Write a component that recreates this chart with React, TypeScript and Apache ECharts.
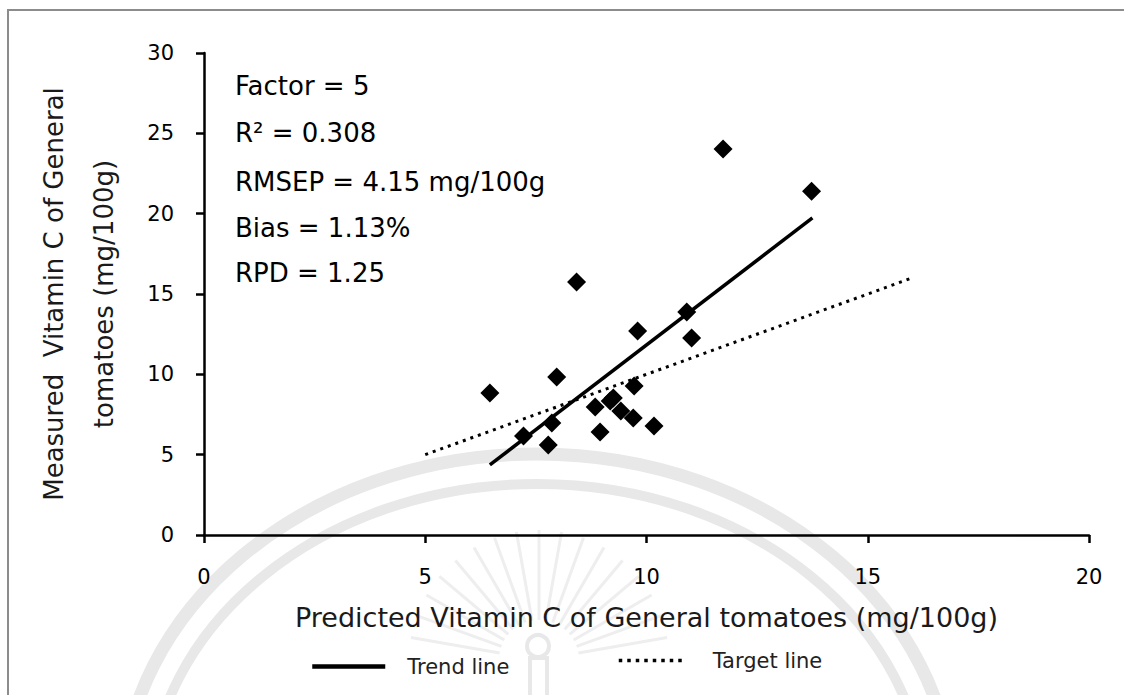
import React, { useEffect, useRef } from "react";
import * as echarts from "echarts";

// ---- Data ----
const predicted: number[] = [11.73, 13.73, 8.42, 10.91, 9.8, 11.02, 7.97, 6.46, 9.72, 9.25, 9.18, 8.84, 9.42, 9.7, 7.86, 10.17, 7.22, 8.95, 7.78];
const measured: number[] = [24.02, 21.4, 15.74, 13.88, 12.69, 12.26, 9.83, 8.84, 9.27, 8.53, 8.34, 7.97, 7.72, 7.28, 6.97, 6.78, 6.16, 6.41, 5.6];
const trendX: number[] = [6.46, 13.75];
const trendY: number[] = [4.36, 19.74];
const targetX: number[] = [5, 16];
const targetY: number[] = [5, 16];
const statsLines: string[] = ["Factor = 5", "R² = 0.308", "RMSEP = 4.15 mg/100g", "Bias = 1.13%", "RPD = 1.25"];
const xAxisTitle = "Predicted Vitamin C of General tomatoes (mg/100g)";
const yAxisTitle = "Measured  Vitamin C of General\ntomatoes (mg/100g)";
const seriesNames: string[] = ["Trend line", "Target line"];

const FONT = "'DejaVu Sans', Verdana, sans-serif";

export default function App() {
  const ref = useRef<HTMLDivElement>(null);

  useEffect(() => {
    document.body.style.margin = "0";
    if (!ref.current) return;
    const chart = echarts.init(ref.current, null, { renderer: "svg" });

    const points = predicted.map((x, i) => [x, measured[i]]);
    const trend = trendX.map((x, i) => [x, trendY[i]]);
    const target = targetX.map((x, i) => [x, targetY[i]]);

    const wm = "#e8e8e8";
    const rayCenter = [539, 660];
    const rays: any[] = [];
    for (let k = 0; k < 17; k++) {
      const a = Math.PI + (Math.PI * (k + 1)) / 18;
      rays.push({
        type: "line",
        silent: true,
        z: -5,
        shape: {
          x1: rayCenter[0] + Math.cos(a) * 40,
          y1: rayCenter[1] + Math.sin(a) * 40,
          x2: rayCenter[0] + Math.cos(a) * 130,
          y2: rayCenter[1] + Math.sin(a) * 130,
        },
        style: { stroke: "#eeeeee", lineWidth: 3 },
      });
    }

    const graphics: any[] = [
      {
        type: "rect",
        silent: true,
        z: -10,
        shape: { x: 8, y: 10, width: 1130, height: 700 },
        style: { fill: "none", stroke: "#8c8c8c", lineWidth: 2 },
      },
      {
        type: "ellipse",
        silent: true,
        z: -5,
        shape: { cx: 537, cy: 800, rx: 416, ry: 346 },
        style: { fill: "none", stroke: wm, lineWidth: 13 },
      },
      {
        type: "ellipse",
        silent: true,
        z: -5,
        shape: { cx: 537, cy: 800, rx: 388, ry: 316 },
        style: { fill: "none", stroke: wm, lineWidth: 10 },
      },
      ...rays,
      {
        type: "circle",
        silent: true,
        z: -5,
        shape: { cx: 538, cy: 646, r: 11 },
        style: { fill: "none", stroke: wm, lineWidth: 4 },
      },
      {
        type: "rect",
        silent: true,
        z: -5,
        shape: { x: 530, y: 658, width: 17, height: 40 },
        style: { fill: "none", stroke: wm, lineWidth: 4 },
      },
      ...statsLines.map((t, i) => ({
        type: "text",
        x: 235,
        y: [86, 133, 182, 228, 273][i],
        z: 10,
        style: {
          text: t,
          fontFamily: FONT,
          fontSize: 26,
          fill: "#000",
          textAlign: "left",
          textVerticalAlign: "middle",
        },
      })),
    ];

    const option: any = {
      animation: false,
      backgroundColor: "#ffffff",
      textStyle: { fontFamily: FONT },
      grid: { left: 204, right: 35, top: 53, bottom: 160, containLabel: false },
      xAxis: {
        type: "value",
        min: 0,
        max: 20,
        interval: 5,
        name: xAxisTitle,
        nameLocation: "middle",
        nameGap: 69,
        nameTextStyle: { fontFamily: FONT, fontSize: 27, color: "#1a1a1a" },
        axisLine: { show: true, lineStyle: { color: "#000", width: 2.5 } },
        axisTick: { show: true, length: 8, lineStyle: { color: "#000", width: 2.5 } },
        axisLabel: { color: "#000", fontSize: 21, margin: 31, fontFamily: FONT },
        splitLine: { show: false },
      },
      yAxis: {
        type: "value",
        min: 0,
        max: 30,
        interval: 5,
        name: yAxisTitle,
        nameLocation: "middle",
        nameRotate: 90,
        nameGap: 75,
        nameTextStyle: { fontFamily: FONT, fontSize: 26, color: "#1a1a1a", lineHeight: 50 },
        axisLine: { show: true, lineStyle: { color: "#000", width: 2.5 } },
        axisTick: { show: true, length: 8, lineStyle: { color: "#000", width: 2.5 } },
        axisLabel: { color: "#000", fontSize: 21, margin: 30, fontFamily: FONT },
        splitLine: { show: false },
      },
      legend: [
        {
          data: [seriesNames[0]],
          left: 310,
          top: 656,
          itemWidth: 73,
          itemHeight: 14,
          padding: 0,
          selectedMode: false,
          itemStyle: { opacity: 0 },
          lineStyle: { width: 4.5, color: "#000" },
          textStyle: { fontFamily: FONT, fontSize: 21, color: "#222", padding: [0, 0, 0, 17] },
        },
        {
          data: [seriesNames[1]],
          left: 617,
          top: 650,
          itemWidth: 68,
          itemHeight: 14,
          padding: 0,
          selectedMode: false,
          itemStyle: { opacity: 0 },
          lineStyle: { width: 3.5, color: "#000", type: [3.5, 5] },
          textStyle: { fontFamily: FONT, fontSize: 21, color: "#222", padding: [0, 0, 0, 21] },
        },
      ],
      graphic: graphics,
      series: [
        {
          name: "Measured",
          type: "scatter",
          data: points,
          symbol: "diamond",
          symbolSize: 19,
          itemStyle: { color: "#000", opacity: 1 },
          z: 4,
        },
        {
          name: seriesNames[0],
          type: "line",
          data: trend,
          symbol: "none",
          itemStyle: { color: "#000" },
          lineStyle: { color: "#000", width: 3.5, type: "solid" },
          z: 3,
        },
        {
          name: seriesNames[1],
          type: "line",
          data: target,
          symbol: "none",
          itemStyle: { color: "#000" },
          lineStyle: { color: "#000", width: 3, type: [3, 5] },
          z: 3,
        },
      ],
    };

    chart.setOption(option);
    return () => chart.dispose();
  }, []);

  return <div ref={ref} style={{ width: 1124, height: 695 }} />;
}
